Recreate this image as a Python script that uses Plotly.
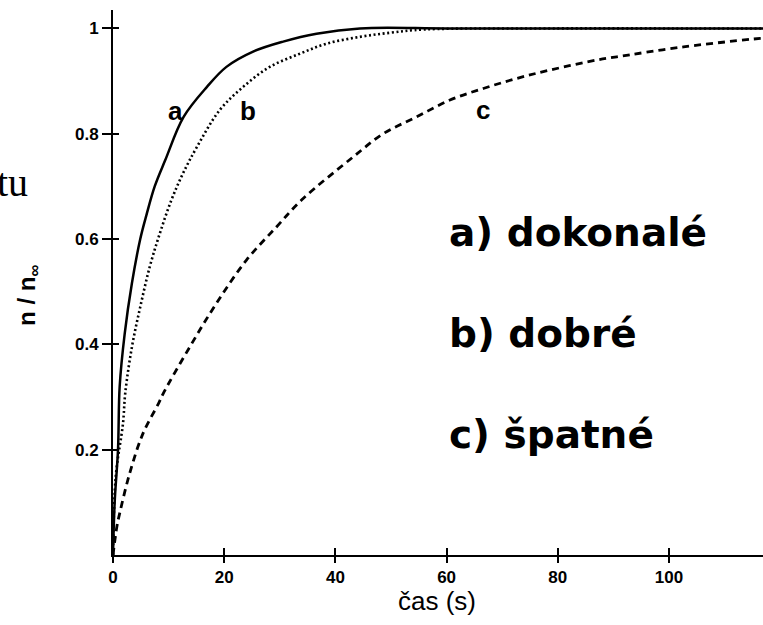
import plotly.graph_objects as go

# ---- data ----
t_a = [0, 0.3, 0.9, 1.2, 2.1, 3.4, 4.9, 6.0, 7.5, 9.4, 12.7, 16.9, 20.4, 25.2, 30.6, 36.6, 44.4, 60, 80, 100, 118]
v_a = [0, 0.10, 0.20, 0.32, 0.42, 0.516, 0.60, 0.645, 0.70, 0.75, 0.832, 0.889, 0.927, 0.956, 0.975, 0.99, 1.0, 1.0, 1.0, 1.0, 1.0]

t_b = [0, 0.5, 1.8, 2.2, 3.4, 4.9, 6.6, 8.4, 10.5, 12.6, 15.1, 19.2, 23.4, 28.2, 33.6, 38.4, 44.4, 50, 56, 80, 100, 118]
v_b = [0, 0.15, 0.25, 0.307, 0.395, 0.471, 0.547, 0.61, 0.674, 0.725, 0.775, 0.845, 0.889, 0.927, 0.952, 0.971, 0.984, 0.992, 0.998, 1.0, 1.0, 1.0]

t_c = [0, 0.7, 1.2, 3.0, 5.4, 8.2, 9.05, 13.8, 18.6, 24, 29.4, 33.9, 43.2, 48.6, 54.6, 60.6, 66.6, 72.6, 78.6, 87, 90.6, 102.6, 116.4, 118]
v_c = [0, 0.054, 0.079, 0.155, 0.231, 0.288, 0.307, 0.395, 0.478, 0.56, 0.623, 0.674, 0.756, 0.80, 0.832, 0.864, 0.886, 0.905, 0.921, 0.94, 0.946, 0.965, 0.981, 0.982]

x_ticks = [0, 20, 40, 60, 80, 100]
x_tick_text = ["0", "20", "40", "60", "80", "100"]
y_ticks = [0.2, 0.4, 0.6, 0.8, 1.0]
y_tick_text = ["0.2", "0.4", "0.6", "0.8", "1"]

curve_labels = ["a", "b", "c"]
curve_label_t = [11.2, 24.2, 66.6]
curve_label_v = [0.843, 0.844, 0.846]

legend_texts = ["a) dokonalé", "b) dobré", "c) špatné"]
legend_t = [60.1, 60.1, 60.1]
legend_v = [0.613, 0.421, 0.229]

X_RANGE = [0, 116.9]
Y_RANGE = [0, 1.035]

fig = go.Figure()
fig.add_trace(go.Scatter(x=t_a, y=v_a, mode="lines",
                         line=dict(color="black", width=2.5, shape="spline", smoothing=1.0)))
fig.add_trace(go.Scatter(x=t_b, y=v_b, mode="lines",
                         line=dict(color="black", width=2.6, dash="2px,2.6px", shape="spline", smoothing=1.0)))
fig.add_trace(go.Scatter(x=t_c, y=v_c, mode="lines",
                         line=dict(color="black", width=2.8, dash="7px,5px", shape="spline", smoothing=1.0)))

annotations = []
for txt, tx, vy in zip(curve_labels, curve_label_t, curve_label_v):
    annotations.append(dict(x=tx, y=vy, xref="x", yref="y", text=txt, showarrow=False,
                            font=dict(family="Liberation Sans", size=26, color="black", weight="bold"),
                            xanchor="center", yanchor="middle"))
for txt, tx, vy in zip(legend_texts, legend_t, legend_v):
    annotations.append(dict(x=tx, y=vy, xref="x", yref="y", text=txt, showarrow=False,
                            font=dict(family="DejaVu Sans", size=39, color="black", weight="bold"),
                            xanchor="left", yanchor="middle"))

# axis titles and side text
annotations.append(dict(x=0.4985, y=-0.085, xref="paper", yref="paper", text="čas (s)",
                        showarrow=False, font=dict(family="Liberation Sans", size=26, color="black"),
                        xanchor="center", yanchor="middle"))
annotations.append(dict(x=-0.131, y=0.477, xref="paper", yref="paper", text="n / n<sub>∞</sub>",
                        textangle=-90, showarrow=False,
                        font=dict(family="Liberation Sans", size=24, color="black", weight="bold"),
                        xanchor="center", yanchor="middle"))
annotations.append(dict(x=-0.1275, y=0.6826, xref="paper", yref="paper", text="tu",
                        showarrow=False, font=dict(family="Liberation Serif", size=40, color="black"),
                        xanchor="right", yanchor="middle"))

tick_font = dict(family="Liberation Sans", size=17, color="black", weight="bold")

fig.update_layout(
    width=763, height=625,
    margin=dict(l=113, r=0, t=10, b=70),
    paper_bgcolor="white", plot_bgcolor="white",
    showlegend=False,
    annotations=annotations,
    xaxis=dict(range=X_RANGE, tickmode="array", tickvals=x_ticks, ticktext=x_tick_text,
               showgrid=False, zeroline=False, showline=True, linecolor="black", linewidth=2,
               ticks="outside", ticklen=6, tickwidth=2, tickcolor="black",
               minor=dict(tickmode="array", tickvals=x_ticks, ticks="inside", ticklen=7,
                          tickwidth=2, tickcolor="black", showgrid=False),
               tickfont=tick_font),
    yaxis=dict(range=Y_RANGE, tickmode="array", tickvals=y_ticks, ticktext=y_tick_text,
               showgrid=False, zeroline=False, showline=True, linecolor="black", linewidth=2,
               ticks="outside", ticklen=9, tickwidth=2, tickcolor="black",
               minor=dict(tickmode="array", tickvals=y_ticks, ticks="inside", ticklen=6,
                          tickwidth=2, tickcolor="black", showgrid=False),
               tickfont=tick_font),
)

fig.write_html("out.html")
